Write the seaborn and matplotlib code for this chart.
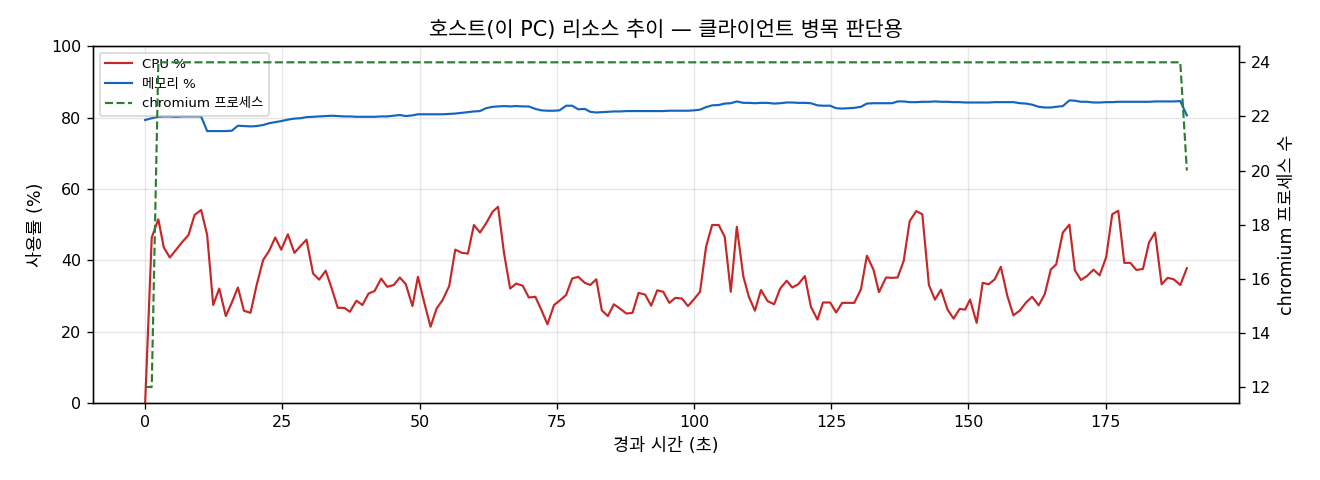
import numpy as np
import pandas as pd
import matplotlib
matplotlib.use("Agg")
import matplotlib.pyplot as plt
import seaborn as sns

################################################################################
# data
################################################################################

elapsed_s = [
    0.0, 1.2, 2.4, 3.4, 4.5, 5.6, 6.8, 7.9, 9.0, 10.2,
    11.3, 12.4, 13.5, 14.7, 15.8, 16.9, 18.0, 19.2, 20.3, 21.5,
    22.6, 23.7, 24.8, 26.0, 27.2, 28.3, 29.4, 30.6, 31.7, 32.9,
    34.0, 35.1, 36.3, 37.3, 38.5, 39.6, 40.7, 41.8, 43.0, 44.1,
    45.3, 46.4, 47.5, 48.7, 49.7, 50.9, 52.0, 53.1, 54.2, 55.4,
    56.5, 57.7, 58.8, 59.9, 61.0, 62.1, 63.3, 64.3, 65.4, 66.5,
    67.6, 68.8, 69.9, 71.1, 72.2, 73.3, 74.5, 75.5, 76.7, 77.8,
    78.9, 80.1, 81.1, 82.2, 83.2, 84.3, 85.4, 86.5, 87.7, 88.8,
    89.9, 91.1, 92.2, 93.3, 94.4, 95.5, 96.6, 97.8, 98.9, 100.0,
    101.1, 102.2, 103.3, 104.5, 105.6, 106.7, 107.8, 109.0, 110.0, 111.1,
    112.2, 113.4, 114.6, 115.7, 116.9, 117.9, 119.0, 120.2, 121.3, 122.5,
    123.5, 124.8, 125.9, 127.0, 128.1, 129.2, 130.4, 131.5, 132.7, 133.7,
    135.0, 136.1, 137.1, 138.2, 139.3, 140.5, 141.6, 142.8, 143.9, 145.0,
    146.2, 147.3, 148.4, 149.4, 150.3, 151.5, 152.6, 153.7, 154.8, 155.9,
    157.1, 158.2, 159.4, 160.5, 161.6, 162.8, 163.9, 165.0, 166.0, 167.2,
    168.4, 169.4, 170.5, 171.6, 172.8, 173.9, 175.1, 176.2, 177.3, 178.4,
    179.5, 180.6, 181.8, 182.9, 184.0, 185.2, 186.3, 187.4, 188.6, 189.8,
]

cpu_pct = [
    0.0, 46.4, 51.5, 43.6, 40.8, 42.9, 45.2, 47.1, 52.7, 54.1,
    47.1, 27.5, 32.1, 24.4, 28.2, 32.4, 25.9, 25.3, 33.0, 40.1,
    42.7, 46.4, 43.0, 47.3, 42.1, 44.0, 45.8, 36.3, 34.6, 37.1,
    32.1, 26.7, 26.7, 25.6, 28.7, 27.5, 30.7, 31.4, 34.9, 32.6,
    33.1, 35.2, 33.3, 27.2, 35.4, 27.9, 21.4, 26.5, 28.9, 32.8,
    43.0, 42.1, 41.9, 49.9, 47.8, 50.3, 53.6, 55.0, 41.9, 32.1,
    33.5, 32.9, 29.6, 29.8, 26.1, 22.1, 27.5, 28.7, 30.3, 34.9,
    35.4, 33.7, 33.1, 34.7, 26.0, 24.4, 27.7, 26.5, 25.1, 25.3,
    30.9, 30.4, 27.3, 31.6, 31.2, 28.1, 29.5, 29.3, 27.2, 29.1,
    31.2, 43.8, 49.9, 49.9, 46.6, 31.2, 49.4, 35.4, 29.8, 25.9,
    31.7, 28.6, 27.7, 32.1, 34.3, 32.4, 33.3, 35.6, 27.0, 23.4,
    28.2, 28.2, 25.4, 28.1, 28.1, 28.1, 31.8, 41.3, 37.4, 31.1,
    35.2, 35.1, 35.2, 39.8, 51.0, 53.8, 52.9, 33.1, 29.0, 31.8,
    26.2, 23.7, 26.4, 26.2, 29.0, 22.5, 33.7, 33.3, 34.7, 38.2,
    30.0, 24.6, 26.0, 28.2, 29.8, 27.4, 30.5, 37.4, 38.9, 47.8,
    50.0, 37.2, 34.5, 35.6, 37.4, 35.8, 40.9, 52.9, 53.9, 39.3,
    39.3, 37.3, 37.6, 45.0, 47.8, 33.3, 35.1, 34.7, 33.1, 37.8,
]

mem_pct = [
    79.3, 79.8, 80.2, 80.3, 80.3, 80.2, 80.3, 80.3, 80.3, 80.3,
    76.2, 76.2, 76.2, 76.2, 76.3, 77.7, 77.6, 77.5, 77.6, 77.9,
    78.4, 78.7, 79.0, 79.4, 79.7, 79.8, 80.1, 80.2, 80.3, 80.4,
    80.5, 80.4, 80.3, 80.3, 80.2, 80.2, 80.2, 80.2, 80.3, 80.3,
    80.5, 80.7, 80.4, 80.6, 80.9, 80.9, 80.9, 80.9, 80.9, 81.0,
    81.1, 81.3, 81.5, 81.7, 81.8, 82.6, 83.0, 83.1, 83.2, 83.1,
    83.2, 83.1, 83.1, 82.4, 82.0, 81.9, 81.9, 82.0, 83.3, 83.3,
    82.3, 82.4, 81.6, 81.4, 81.5, 81.6, 81.7, 81.7, 81.8, 81.8,
    81.8, 81.8, 81.8, 81.8, 81.8, 81.9, 81.9, 81.9, 81.9, 82.0,
    82.2, 82.9, 83.4, 83.5, 83.9, 84.0, 84.5, 84.1, 84.1, 84.0,
    84.1, 84.1, 83.9, 84.0, 84.2, 84.2, 84.1, 84.1, 84.0, 83.4,
    83.3, 83.3, 82.6, 82.5, 82.6, 82.7, 83.0, 83.9, 84.0, 84.0,
    84.0, 84.0, 84.5, 84.5, 84.3, 84.3, 84.4, 84.4, 84.5, 84.4,
    84.4, 84.3, 84.3, 84.2, 84.2, 84.2, 84.2, 84.2, 84.3, 84.3,
    84.3, 84.3, 84.0, 83.9, 83.6, 83.0, 82.8, 82.8, 83.0, 83.2,
    84.8, 84.7, 84.4, 84.4, 84.2, 84.2, 84.3, 84.3, 84.4, 84.4,
    84.4, 84.4, 84.4, 84.4, 84.5, 84.5, 84.5, 84.5, 84.6, 80.6,
]

# chromium process count: 12 for the first two samples, 24 until the last one, then 20
chromium_procs = [12, 12] + [24] * 167 + [20]

df = pd.DataFrame({
    "t": elapsed_s,
    "cpu": cpu_pct,
    "mem": mem_pct,
    "procs": chromium_procs,
})

################################################################################
# draw the plot
################################################################################

# latin/digits from DejaVu, hangul falls back to Noto CJK
plt.rcParams["font.family"] = ["DejaVu Sans", "Noto Sans CJK KR"]

fig, ax = plt.subplots(figsize=(11, 4), dpi=120)
fig.subplots_adjust(left=0.0705, right=0.9386, top=0.904, bottom=0.160)

sns.lineplot(data=df, x="t", y="cpu", ax=ax, color="#c62828", linewidth=1.3, label="CPU %")
sns.lineplot(data=df, x="t", y="mem", ax=ax, color="#1565c0", linewidth=1.3, label="메모리 %")
ax.set_ylim(0, 100)
ax.set_xlabel("경과 시간 (초)", fontsize=10.5)
ax.set_ylabel("사용률 (%)", fontsize=10.5)
ax.set_title("호스트(이 PC) 리소스 추이 — 클라이언트 병목 판단용", fontsize=12.5)
ax.grid(True, alpha=0.3)
ax.tick_params(labelsize=9.5)

ax2 = ax.twinx()
sns.lineplot(data=df, x="t", y="procs", ax=ax2, color="#2e7d32", linewidth=1.3,
             linestyle="--", label="chromium 프로세스")
ax2.set_ylabel("chromium 프로세스 수", fontsize=10.5)
ax2.tick_params(labelsize=9.5)
ax2.get_legend().remove()

# one legend for both axes
h1, l1 = ax.get_legend_handles_labels()
h2, l2 = ax2.get_legend_handles_labels()
ax.legend(h1 + h2, l1 + l2, loc="upper left", fontsize=8)

fig.savefig("out.png", dpi=120)
